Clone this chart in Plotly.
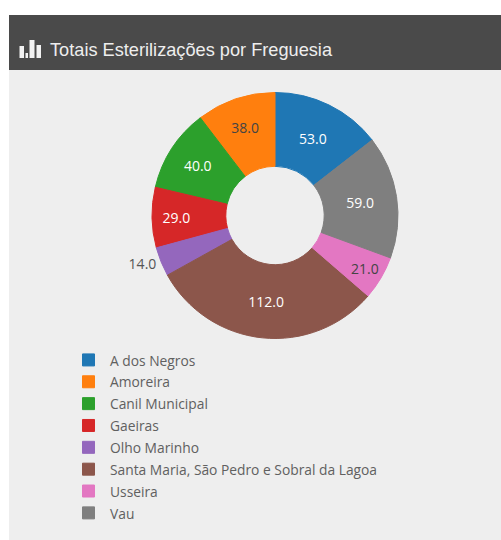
import plotly.graph_objects as go

W, H = 501, 540
names = ["A dos Negros", "Amoreira", "Canil Municipal", "Gaeiras", "Olho Marinho",
         "Santa Maria, São Pedro e Sobral da Lagoa", "Usseira", "Vau"]
values = [53, 38, 40, 29, 14, 112, 21, 59]
colors = ["#1f77b4", "#ff7f0e", "#2ca02c", "#d62728", "#9467bd", "#8c564b", "#e377c2", "#7f7f7f"]
label_colors = ["#ffffff", "#444444", "#ffffff", "#ffffff", "#555555", "#ffffff", "#444444", "#ffffff"]
label_positions = ["inside", "inside", "inside", "inside", "outside", "inside", "inside", "inside"]
title = "Totais Esterilizações por Freguesia"

def px(x): return x / W
def py(y): return 1 - y / H

legend_labels = [f'<span style="font-size:13.8px">{n}</span>' for n in names]

fig = go.Figure(go.Pie(
    labels=legend_labels, values=values, sort=False, direction="counterclockwise",
    rotation=0, hole=0.4,
    marker=dict(colors=colors, line=dict(color=colors, width=1)),
    texttemplate="%{value:.1f}", textposition=label_positions,
    insidetextorientation="horizontal",
    textfont=dict(family="Open Sans", size=14, color=label_colors),
    domain=dict(x=[px(275 - 123), px(275 + 123)], y=[py(215.5 + 123), py(215.5 - 123)]),
    hoverinfo="skip",
))

shapes = [
    dict(type="rect", xref="paper", yref="paper", x0=px(9), x1=1, y0=0, y1=py(15),
         fillcolor="#eeeeee", line_width=0, layer="below"),
    dict(type="rect", xref="paper", yref="paper", x0=px(9), x1=1, y0=py(70), y1=py(15),
         fillcolor="#4a4a4a", line_width=0, layer="below"),
]
for x0, x1, y0 in [(19.5, 24, 46), (25.5, 28, 53), (29.5, 34.5, 40), (36.5, 41, 45)]:
    shapes.append(dict(type="rect", xref="paper", yref="paper", x0=px(x0), x1=px(x1),
                       y0=py(58), y1=py(y0), fillcolor="#f2f2f2", line_width=0))

fig.update_layout(
    width=W, height=H, margin=dict(l=0, r=0, t=0, b=0),
    paper_bgcolor="#ffffff", plot_bgcolor="#ffffff", shapes=shapes,
    showlegend=True,
    legend=dict(x=px(67), xanchor="left", y=py(344), yanchor="top", traceorder="normal",
                itemwidth=33,
                font=dict(family="Open Sans", size=14.5, color="#606060"),
                bgcolor="rgba(0,0,0,0)"),
    annotations=[dict(text=title, xref="paper", yref="paper", x=px(48), y=py(49.5),
                      xanchor="left", yanchor="middle", showarrow=False,
                      font=dict(family="Liberation Sans", size=18.2, color="#eeeeee"))],
)
fig.write_html("out.html", config=dict(displayModeBar=False),
               post_script="document.body.style.margin='0';document.body.style.overflow='hidden';")
